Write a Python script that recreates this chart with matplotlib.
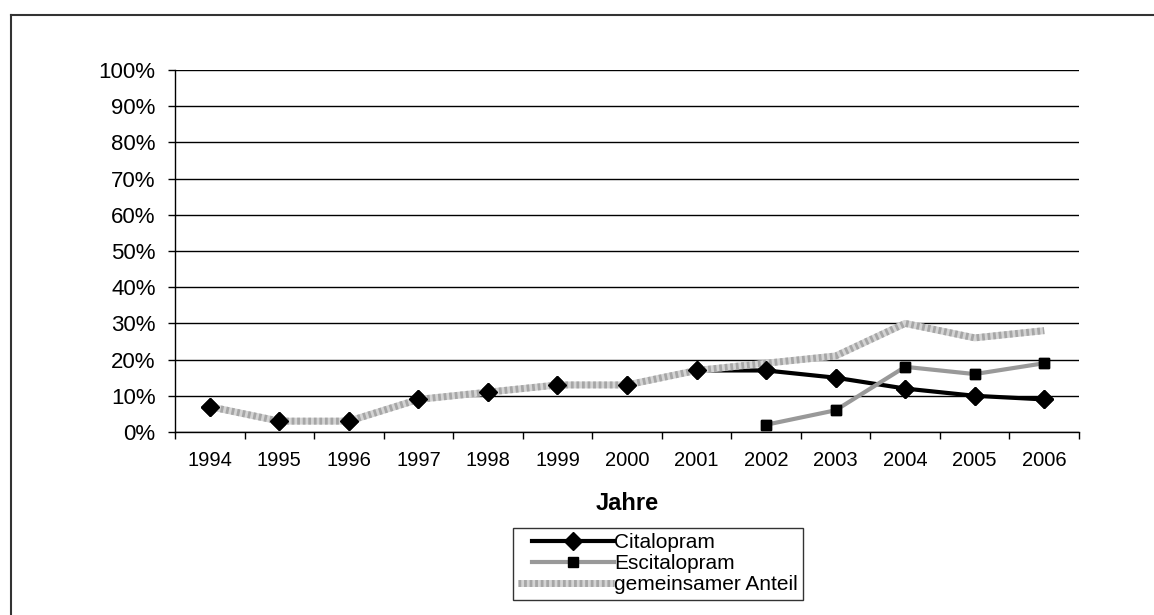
import matplotlib.pyplot as plt
from matplotlib.lines import Line2D
from matplotlib.legend_handler import HandlerLine2D
import numpy as np

plt.rcParams['font.family'] = ['Liberation Sans', 'DejaVu Sans']

years = ['1994', '1995', '1996', '1997', '1998', '1999', '2000',
         '2001', '2002', '2003', '2004', '2005', '2006']
citalopram = [7, 3, 3, 9, 11, 13, 13, 17, 17, 15, 12, 10, 9]
escitalopram = [None, None, None, None, None, None, None, None, 2, 6, 18, 16, 19]
gemeinsam = [7, 3, 3, 9, 11, 13, 13, 17, 19, 21, 30, 26, 28]
yticks = [0, 10, 20, 30, 40, 50, 60, 70, 80, 90, 100]

x = np.arange(len(years))
esc = np.array([np.nan if v is None else v for v in escitalopram], dtype=float)

fig = plt.figure(figsize=(11.54, 6.15), dpi=100)
ax = fig.add_axes([175 / 1154, 1 - 432 / 615, 904 / 1154, 362 / 615])

# lines first, markers on top afterwards
h_cit, = ax.plot(x, citalopram, color='black', lw=3, marker='D', ms=9,
                 mfc='black', mec='black', zorder=2, label='Citalopram')
h_esc, = ax.plot(x, esc, color='#999999', lw=3, marker='s', ms=7,
                 mfc='black', mec='black', zorder=2.1, label='Escitalopram')
g1, = ax.plot(x, gemeinsam, color='#d4d4d4', lw=5, solid_capstyle='butt', zorder=2.5)
g2, = ax.plot(x, gemeinsam, color='#a6a6a6', lw=5, dashes=(0.4, 0.4),
              dash_capstyle='butt', zorder=2.6)
ax.plot(x, citalopram, ls='none', marker='D', ms=9, mfc='black', mec='black', zorder=4)
ax.plot(x, esc, ls='none', marker='s', ms=7, mfc='black', mec='black', zorder=4)

ax.set_xlim(-0.5, len(years) - 0.5)
ax.set_ylim(0, 100)
ax.set_yticks(yticks)
ax.set_yticklabels([f'{v}%' for v in yticks])
ax.set_xticks(x)
ax.set_xticklabels(years)
ax.set_xticks(np.arange(-0.5, len(years), 1), minor=True)
ax.tick_params(axis='x', which='major', length=0, pad=14, labelsize=14.5)
ax.tick_params(axis='x', which='minor', length=5, width=1, direction='out')
ax.tick_params(axis='y', length=5, width=1, direction='out', pad=9, labelsize=16)

ax.grid(axis='y', color='black', lw=1)
ax.set_axisbelow(True)
for s in ['top', 'right']:
    ax.spines[s].set_visible(False)
ax.spines['left'].set_linewidth(1)
ax.spines['bottom'].set_linewidth(1)

fig.text(627 / 1154, 1 - 503 / 615, 'Jahre', ha='center', va='center',
         fontsize=17, fontweight='bold')

leg = fig.legend([h_cit, h_esc, (g1, g2)],
                 ['Citalopram', 'Escitalopram', 'gemeinsamer Anteil'],
                 loc='upper left', bbox_to_anchor=(513 / 1154, 1 - 528 / 615),
                 fontsize=15, frameon=True, fancybox=False, edgecolor='black',
                 handlelength=4.6, handletextpad=0.0, labelspacing=0.1,
                 borderpad=0.25, borderaxespad=0,
                 handler_map={Line2D: HandlerLine2D(xpad=0.65)})
leg.get_frame().set_linewidth(1)

# outer frame of the chart area
fig.add_artist(Line2D([11 / 1154, 11 / 1154], [0, 1 - 15 / 615], color='#333333', lw=1.5))
fig.add_artist(Line2D([11 / 1154, 1], [1 - 15 / 615, 1 - 15 / 615], color='#333333', lw=1.5))

fig.savefig('out.png', dpi=100)
